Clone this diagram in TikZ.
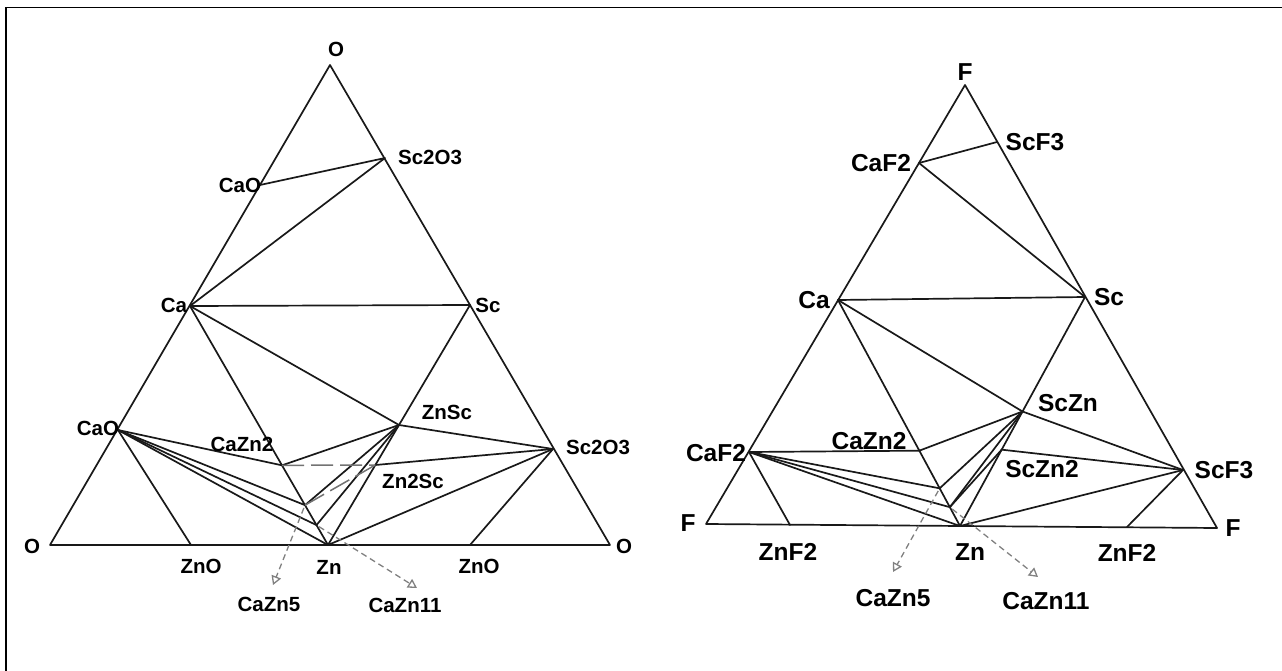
\documentclass[tikz,border=0pt]{standalone}
\usepackage{fontspec}
\setmainfont{Liberation Sans}
\usetikzlibrary{calc,arrows.meta}
\begin{document}
\begin{tikzpicture}[x=1pt,y=-1pt,
  tie/.style={line width=1.7pt, black!90, line cap=round, line join=round},
  dashtie/.style={line width=1.5pt, black!55, dash pattern=on 22pt off 7pt},
  pointer/.style={line width=1.3pt, black!50, dash pattern=on 6pt off 4pt,
    shorten <=3pt, -{Triangle[open,length=9pt,width=10pt]}},
  lbl/.style={font=\bfseries\fontsize{20.5}{20.5}\selectfont, inner sep=0pt},
  rlbl/.style={font=\bfseries\fontsize{24.5}{24.5}\selectfont, inner sep=0pt}]
\useasboundingbox (0,0) rectangle (1282,671);
% outer frame
\draw[line width=1.8pt] (6,671) -- (6,7.5) -- (1282,7.5);

% ---------- Ca-Sc-Zn-O section ----------
\coordinate (LOt) at (330,65);
\coordinate (LOl) at (50,545);
\coordinate (LOr) at (610,545);
\coordinate (LCaOu) at (260,185);
\coordinate (LSc2O3u) at (385,158);
\coordinate (LCa) at (190,306);
\coordinate (LSc) at (470,305);
\coordinate (LCaOl) at (118,430);
\coordinate (LSc2O3l) at (553,449);
\coordinate (LZn) at (328,545);
\coordinate (LZnOl) at (191,545);
\coordinate (LZnOr) at (470,545);
\coordinate (LCaZn2) at ($(LCa)!2/3!(LZn)$);
\coordinate (LCaZn5) at ($(LCa)!5/6!(LZn)$);
\coordinate (LCaZn11) at ($(LCa)!11/12!(LZn)$);
\coordinate (LZnSc) at ($(LSc)!1/2!(LZn)$);
\coordinate (LZn2Sc) at ($(LSc)!2/3!(LZn)$);
\coordinate (LCaZn5tip) at (273,585);
\coordinate (LCaZn11tip) at (417,588);

\draw[tie] (LOl) -- (LOt) -- (LOr) -- cycle;
\draw[tie] (LCaOu) -- (LSc2O3u) -- (LCa) -- (LSc);
\draw[tie] (LCa) -- (LZn);
\draw[tie] (LSc) -- (LZn);
\draw[tie] (LCa) -- (LZnSc) -- (LSc2O3l);
\draw[tie] (LCaZn2) -- (LZnSc);
\draw[tie] (LZn2Sc) -- (LSc2O3l);
\draw[tie] (LZn) -- (LSc2O3l);
\draw[tie] (LZnOr) -- (LSc2O3l);
\draw[tie] (LCaOl) -- (LZnOl);
\draw[tie] (LCaOl) -- (LCaZn2);
\draw[tie] (LCaOl) -- (LCaZn5);
\draw[tie] (LCaOl) -- (LCaZn11);
\draw[tie] (LCaOl) -- (LZn);
\draw[tie] (LZnSc) -- (LCaZn5);
\draw[tie] (LZnSc) -- (LCaZn11);
\draw[dashtie] (LCaZn2) -- (LZn2Sc);
\draw[dashtie] (LCaZn5) -- (LZn2Sc);
\draw[pointer] (LCaZn5) -- (LCaZn5tip);
\draw[pointer] (LCaZn11) -- (LCaZn11tip);

\node[lbl] (lO1) at (336,49) {O};
\node[lbl] (lSc2O3a) at (430,157) {Sc2O3};
\node[lbl] (lCaOa) at (240,185) {CaO};
\node[lbl] (lCa) at (174,305) {Ca};
\node[lbl] (lSc) at (488,305) {Sc};
\node[lbl] (lCaOb) at (98,428) {CaO};
\node[lbl] (lCaZn2) at (242,444) {CaZn2};
\node[lbl] (lZnSc) at (447,412) {ZnSc};
\node[lbl] (lZn2Sc) at (413,481) {Zn2Sc};
\node[lbl] (lSc2O3b) at (598,447) {Sc2O3};
\node[lbl] (lO2) at (32,546) {O};
\node[lbl] (lO3) at (624,546) {O};
\node[lbl] (lZnOa) at (201,566) {ZnO};
\node[lbl] (lZn) at (329,567) {Zn};
\node[lbl] (lZnOb) at (479,566) {ZnO};
\node[lbl] (lCaZn5) at (269,604) {CaZn5};
\node[lbl] (lCaZn11) at (405,605) {CaZn11};

% ---------- Ca-Sc-Zn-F section ----------
\coordinate (RFt) at (965,85);
\coordinate (RFl) at (706,524);
\coordinate (RFr) at (1217,528);
\coordinate (RCaF2u) at (919,163);
\coordinate (RScF3u) at (997,142);
\coordinate (RCa) at (838,300);
\coordinate (RSc) at (1085,297);
\coordinate (RCaF2l) at (749,452);
\coordinate (RScF3l) at (1183,470);
\coordinate (RZn) at (960,526);
\coordinate (RZnF2l) at (790,525);
\coordinate (RZnF2r) at (1127,527);
\coordinate (RCaZn2) at ($(RCa)!2/3!(RZn)$);
\coordinate (RCaZn5) at ($(RCa)!5/6!(RZn)$);
\coordinate (RCaZn11) at ($(RCa)!11/12!(RZn)$);
\coordinate (RScZn) at ($(RSc)!1/2!(RZn)$);
\coordinate (RScZn2) at ($(RSc)!2/3!(RZn)$);
\coordinate (RCaZn5tip) at (893,572);
\coordinate (RCaZn11tip) at (1038,577);

\draw[tie] (RFl) -- (RFt) -- (RFr) -- cycle;
\draw[tie] (RCaF2u) -- (RScF3u);
\draw[tie] (RCaF2u) -- (RSc);
\draw[tie] (RCa) -- (RSc);
\draw[tie] (RCa) -- (RZn);
\draw[tie] (RSc) -- (RZn);
\draw[tie] (RCa) -- (RScZn) -- (RScF3l);
\draw[tie] (RScZn2) -- (RScF3l);
\draw[tie] (RZn) -- (RScF3l);
\draw[tie] (RZnF2r) -- (RScF3l);
\draw[tie] (RCaF2l) -- (RZnF2l);
\draw[tie] (RCaF2l) -- (RCaZn2);
\draw[tie] (RCaF2l) -- (RCaZn5);
\draw[tie] (RCaF2l) -- (RCaZn11);
\draw[tie] (RCaF2l) -- (RZn);
\draw[tie] (RCaZn2) -- (RScZn);
\draw[tie] (RScZn) -- (RCaZn5);
\draw[tie] (RScZn) -- (RCaZn11);
\draw[tie] (RScZn2) -- (RCaZn11);
\draw[pointer] (RCaZn5) -- (RCaZn5tip);
\draw[pointer] (RCaZn11) -- (RCaZn11tip);

\node[rlbl] (rF1) at (965,72) {F};
\node[rlbl] (rScF3a) at (1035,142) {ScF3};
\node[rlbl] (rCaF2a) at (881,163) {CaF2};
\node[rlbl] (rCa) at (814,300) {Ca};
\node[rlbl] (rSc) at (1109,297) {Sc};
\node[rlbl] (rScZn) at (1068,403) {ScZn};
\node[rlbl] (rCaZn2) at (869,441) {CaZn2};
\node[rlbl] (rCaF2b) at (716,453) {CaF2};
\node[rlbl] (rScZn2) at (1042,469) {ScZn2};
\node[rlbl] (rScF3b) at (1224,470) {ScF3};
\node[rlbl] (rF2) at (688,523) {F};
\node[rlbl] (rF3) at (1233,528) {F};
\node[rlbl] (rZnF2a) at (788,552) {ZnF2};
\node[rlbl] (rZn) at (970,552) {Zn};
\node[rlbl] (rZnF2b) at (1127,553) {ZnF2};
\node[rlbl] (rCaZn5) at (893,598) {CaZn5};
\node[rlbl] (rCaZn11) at (1046,601) {CaZn11};
\end{tikzpicture}
\end{document}
